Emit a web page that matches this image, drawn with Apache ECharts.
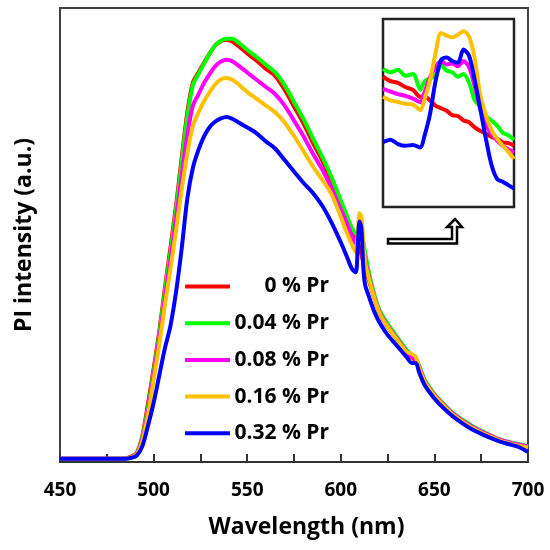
<!DOCTYPE html>
<html>
<head>
<meta charset="utf-8">
<script src="https://cdn.jsdelivr.net/npm/echarts@6/dist/echarts.min.js"></script>
<style>html,body{margin:0;padding:0;background:#fff}#c{width:550px;height:550px}</style>
</head>
<body>
<div id="c"></div>
<script>
// ---- main spectrum data ----
var wavelengths = [450,480,485,488,491,494,497,500,503,506,509,512,515,518,521,524,527,530,533,536,539,542,545,550,555,560,565,570,575,580,585,590,595,600,603,606,608,609,610,611,612,613,615,618,621,625,630,635,638,640,642,645,650,655,660,665,670,675,680,685,690,695,700];
var pr0  = [.007,.007,.008,.012,.02,.058,.128,.205,.287,.382,.472,.565,.67,.77,.836,.858,.88,.9,.918,.927,.93,.926,.917,.9,.884,.866,.85,.82,.783,.746,.704,.665,.62,.568,.536,.508,.492,.482,.472,.458,.44,.426,.4,.36,.325,.298,.27,.243,.23,.224,.205,.175,.145,.124,.105,.09,.077,.066,.057,.048,.042,.037,.033];
var pr004= [.007,.007,.008,.011,.018,.055,.118,.198,.28,.375,.462,.555,.66,.76,.83,.855,.878,.9,.918,.928,.932,.932,.925,.908,.892,.875,.858,.83,.793,.756,.714,.673,.628,.576,.545,.515,.503,.502,.505,.498,.485,.462,.418,.368,.332,.305,.276,.248,.236,.229,.211,.18,.15,.128,.108,.093,.08,.069,.059,.05,.044,.039,.035];
var pr008= [.007,.007,.008,.011,.017,.05,.11,.19,.27,.36,.445,.535,.63,.72,.785,.81,.835,.855,.872,.882,.886,.883,.874,.858,.842,.826,.81,.785,.752,.718,.68,.645,.603,.556,.528,.496,.482,.49,.515,.508,.478,.445,.408,.362,.328,.3,.272,.244,.232,.227,.208,.177,.148,.126,.106,.091,.078,.067,.058,.049,.043,.038,.034];
var pr016= [.007,.007,.008,.01,.016,.046,.103,.18,.258,.345,.425,.51,.6,.68,.74,.77,.795,.815,.832,.843,.846,.842,.833,.815,.8,.785,.77,.748,.718,.685,.652,.622,.59,.54,.507,.478,.462,.5,.548,.54,.49,.44,.405,.36,.326,.298,.27,.243,.238,.232,.206,.175,.146,.124,.104,.089,.076,.065,.056,.047,.041,.036,.032];
var pr032= [.007,.007,.007,.009,.014,.035,.08,.13,.19,.25,.3,.375,.47,.58,.648,.688,.718,.738,.75,.757,.76,.756,.749,.737,.724,.706,.69,.665,.64,.615,.593,.565,.528,.484,.455,.425,.418,.47,.53,.515,.43,.39,.365,.33,.305,.28,.256,.232,.218,.218,.196,.168,.14,.118,.1,.085,.072,.062,.053,.045,.039,.033,.022];
// ---- inset (zoom around 610 nm) data ----
var insetWl   = [606,606.4,606.8,607.2,607.6,608.0,608.2,608.5,608.8,609.1,609.4,609.7,610.0,610.3,610.6,610.9,611.2,611.5,611.8,612.1,612.4,612.7,613];
var insetPr0  = [.499,.494,.492,.487,.484,.476,.477,.472,.466,.463,.46,.455,.454,.449,.447,.441,.437,.434,.43,.428,.424,.423,.42];
var insetPr004= [.508,.504,.507,.5,.502,.484,.493,.497,.5,.512,.506,.504,.499,.502,.492,.472,.465,.454,.449,.443,.435,.432,.427];
var insetPr008= [.485,.482,.479,.477,.474,.47,.48,.498,.51,.517,.513,.514,.511,.517,.51,.488,.462,.444,.434,.426,.42,.416,.412];
var insetPr016= [.476,.472,.47,.468,.467,.461,.472,.494,.525,.549,.546,.544,.547,.551,.545,.52,.478,.455,.438,.428,.42,.413,.405];
var insetPr032= [.424,.427,.422,.42,.421,.418,.43,.455,.493,.518,.521,.517,.515,.53,.523,.495,.462,.428,.398,.382,.379,.375,.371];
var names  = ['0 % Pr','0.04 % Pr','0.08 % Pr','0.16 % Pr','0.32 % Pr'];
var colors = ['#ff0000','#00ff00','#ff00ff','#ffc000','#0000ff'];
var xTicks = [450,500,550,600,650,700];

function pairs(xs, ys){ return xs.map(function(x,i){ return [x, ys[i]]; }); }
var mainSets = [pr0,pr004,pr008,pr016,pr032];
var insetSets = [insetPr0,insetPr004,insetPr008,insetPr016,insetPr032];
var FONT = 'Open Sans';
var series = [];
mainSets.forEach(function(d,i){
  series.push({name:names[i], type:'line', xAxisIndex:0, yAxisIndex:0, data:pairs(wavelengths,d),
    showSymbol:false, smooth:0.3, lineStyle:{width:4,color:colors[i]}, itemStyle:{color:colors[i]}, z:2+i});
});
insetSets.forEach(function(d,i){
  series.push({name:names[i], type:'line', xAxisIndex:1, yAxisIndex:1, data:pairs(insetWl,d),
    showSymbol:false, smooth:0.3, lineStyle:{width:4,color:colors[i]}, itemStyle:{color:colors[i]}, z:2+i});
});

var chart = echarts.init(document.getElementById('c'));
chart.setOption({
  animation:false,
  backgroundColor:'#fff',
  grid:[
    {left:60, right:22, top:8, bottom:88, show:true, borderColor:'#404040', borderWidth:2},
    {left:383, top:19, width:131, height:188, show:true, borderColor:'#222', borderWidth:2.5}
  ],
  xAxis:[
    {type:'value', gridIndex:0, min:450, max:700, interval:25,
     name:'Wavelength (nm)', nameLocation:'middle', nameGap:54,
     nameTextStyle:{fontFamily:FONT, fontWeight:'bold', fontSize:23, color:'#000', padding:[0,0,0,25]},
     axisLine:{show:true, lineStyle:{color:'#333', width:2}},
     axisTick:{show:true, inside:true, length:8, lineStyle:{color:'#333', width:2}},
     axisLabel:{margin:19, fontFamily:FONT, fontWeight:'bold', fontSize:19, color:'#000',
       formatter:function(v){ return xTicks.indexOf(v) >= 0 ? String(v) : ''; }},
     splitLine:{show:false}},
    {type:'value', gridIndex:1, min:606, max:613, show:false, splitLine:{show:false}}
  ],
  yAxis:[
    {type:'value', gridIndex:0, min:0, max:1,
     name:'PI intensity (a.u.)', nameLocation:'middle', nameGap:12,
     nameTextStyle:{fontFamily:FONT, fontWeight:'bold', fontSize:23, color:'#000', padding:[0,0,12,0]},
     axisLine:{show:true, lineStyle:{color:'#404040', width:2}},
     axisTick:{show:false}, axisLabel:{show:false}, splitLine:{show:false}},
    {type:'value', gridIndex:1, min:0.35, max:0.565, show:false, splitLine:{show:false}}
  ],
  legend:{
    data:names, orient:'vertical', left:185, top:276, padding:0, itemWidth:45, itemHeight:4, itemGap:15.7,
    icon:'rect', selectedMode:false,
    formatter:function(n){ return '{a|' + n + '}'; },
    textStyle:{rich:{a:{fontFamily:FONT, fontWeight:'bold', fontSize:21, color:'#000', width:94, align:'right', lineHeight:22}}}
  },
  graphic:[
    {type:'polygon', z:20, shape:{points:[[388,239],[452,239],[452,227],[447,227],[455,219],[462,227],[457,227],[457,243.5],[388,243.5]]},
     style:{fill:'#fff', stroke:'#000', lineWidth:2.5}}
  ],
  series:series
});
</script>
</body>
</html>
